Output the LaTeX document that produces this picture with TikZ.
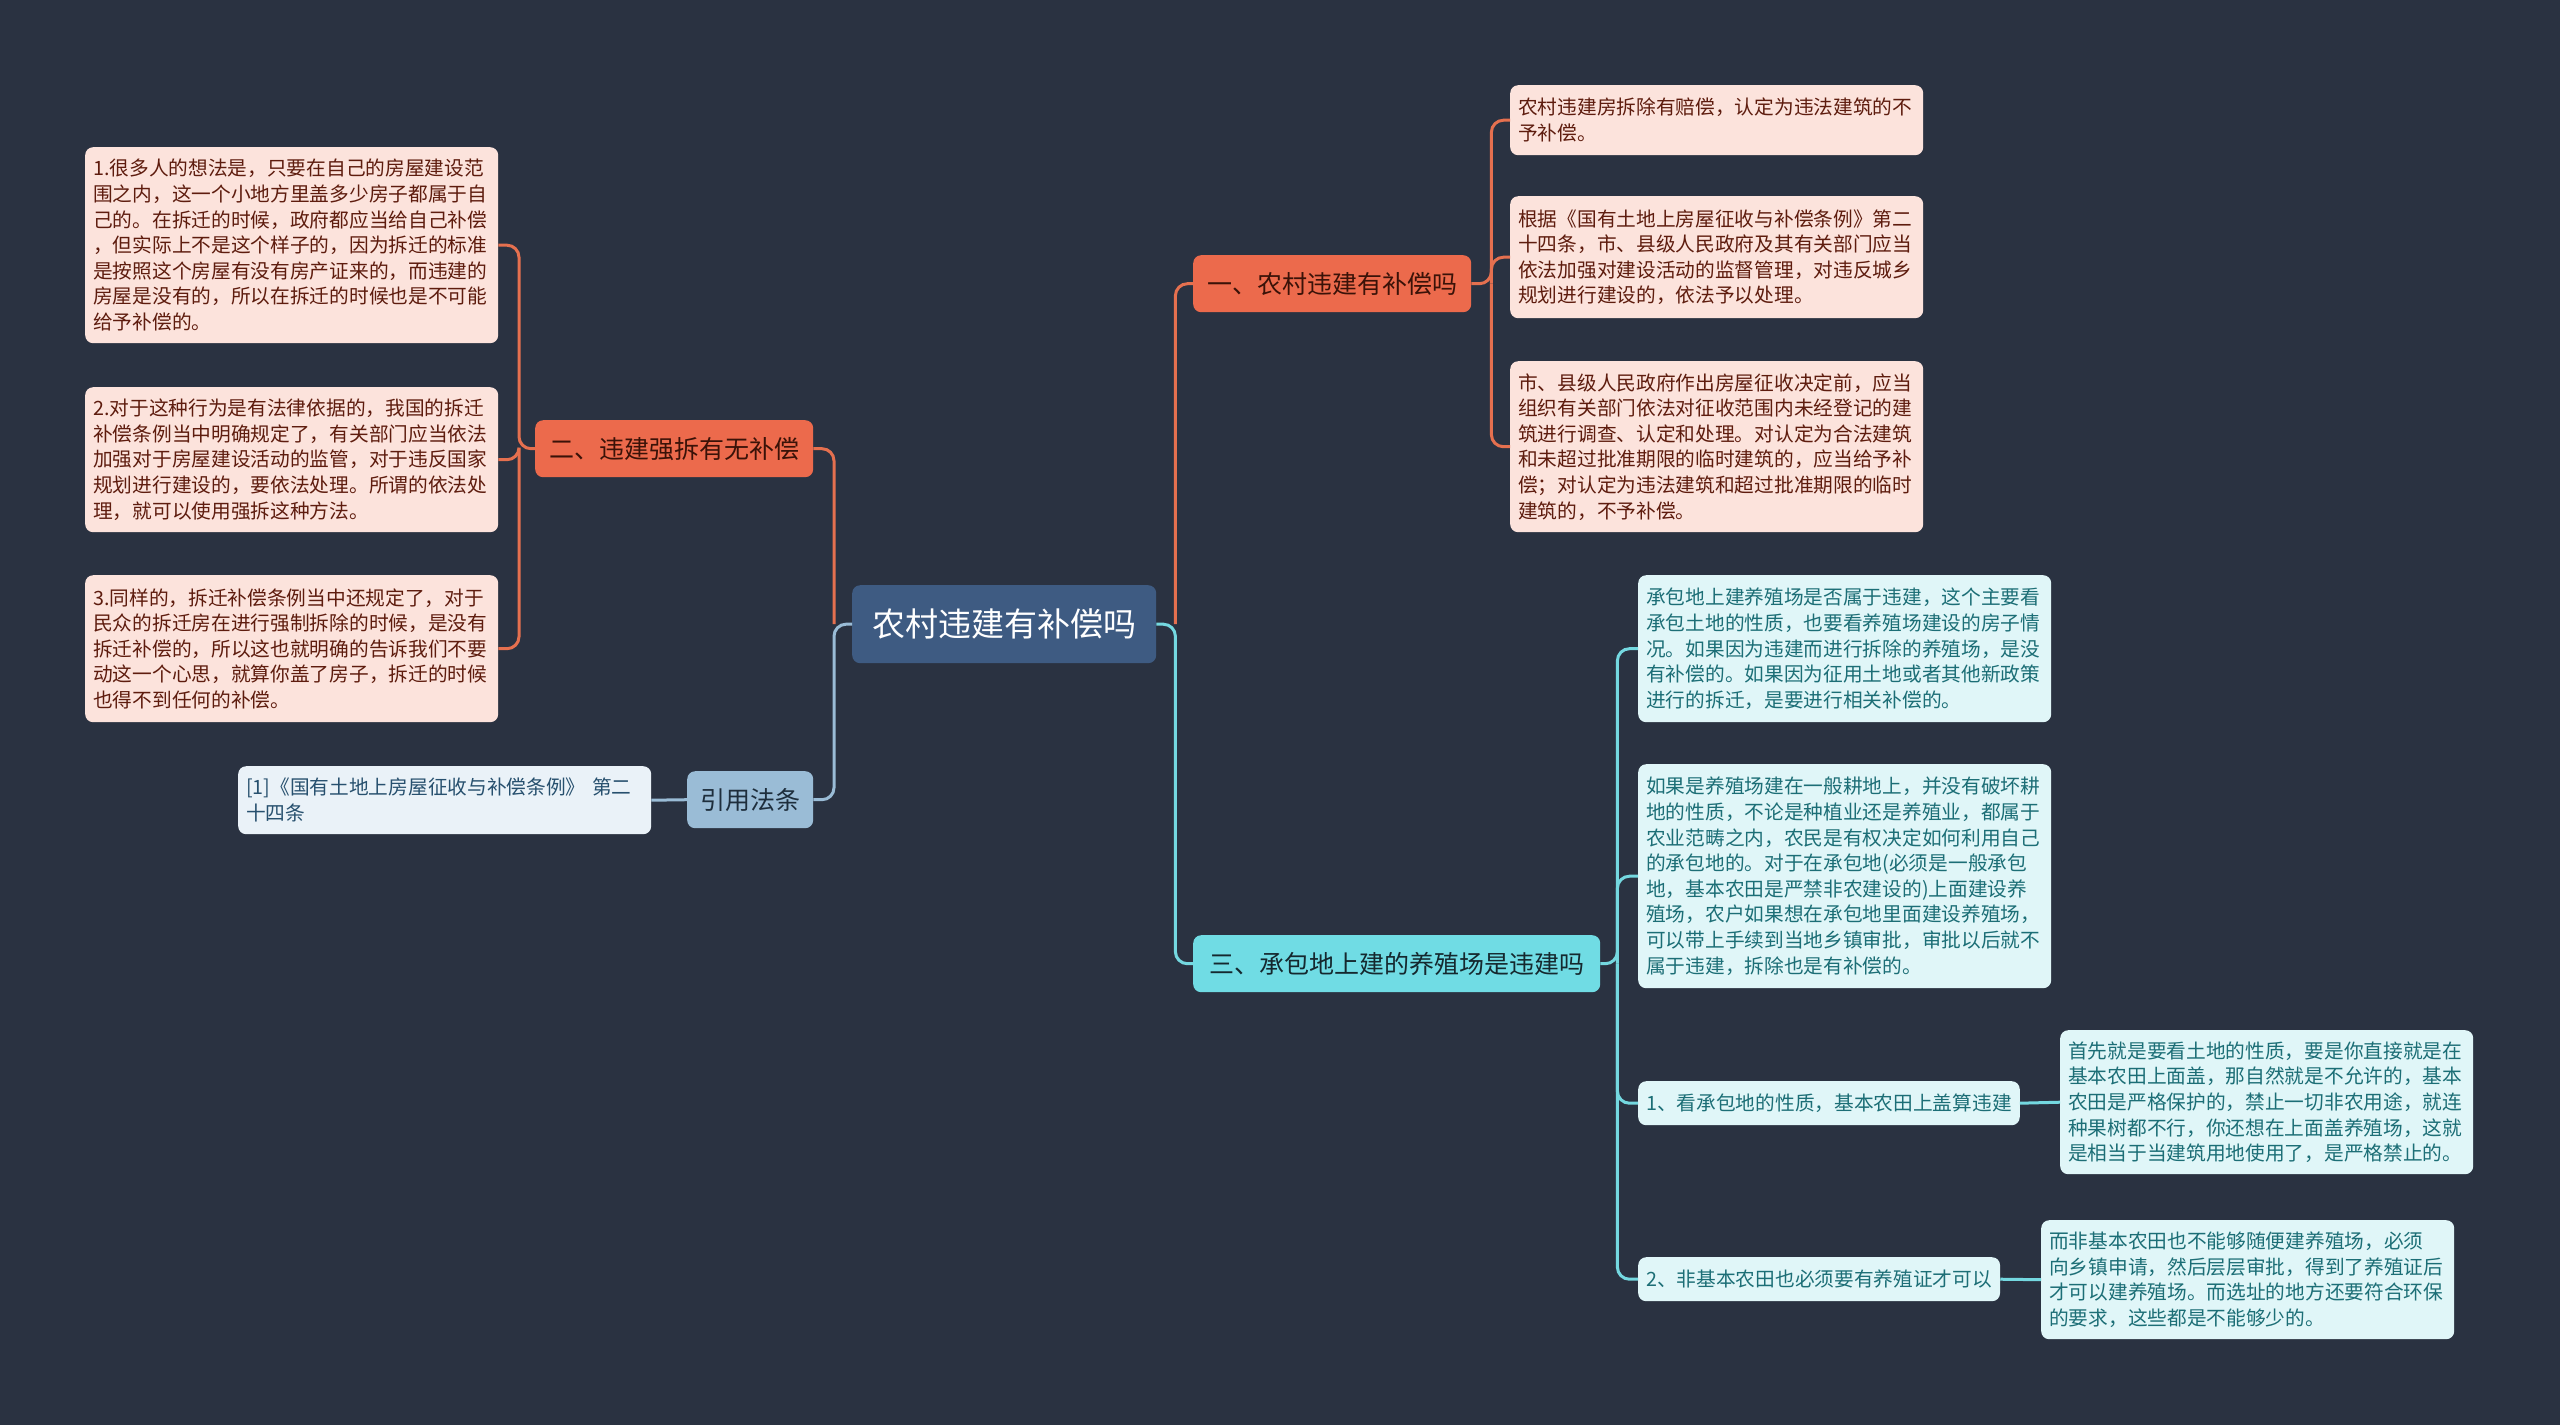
\documentclass[tikz,border=0pt]{standalone}
\usepackage{fontspec}
\newfontfamily\cjk{Noto Sans CJK SC}
\definecolor{bg}{HTML}{2A3241}
\definecolor{rootfill}{HTML}{3E5B82}
\definecolor{ofill}{HTML}{EC6A4C}
\definecolor{otext}{HTML}{3A1208}
\definecolor{oleaf}{HTML}{FCE3DC}
\definecolor{oleaftext}{HTML}{5E1C0E}
\definecolor{oline}{HTML}{E5704F}
\definecolor{cfill}{HTML}{70DCE4}
\definecolor{ctext}{HTML}{15282E}
\definecolor{cleaf}{HTML}{E0F6F8}
\definecolor{cleaftext}{HTML}{1C6E76}
\definecolor{cline}{HTML}{74D8E0}
\definecolor{bfill}{HTML}{9ABCD6}
\definecolor{btext}{HTML}{1E2E3C}
\definecolor{bleaf}{HTML}{EAF2F8}
\definecolor{bleaftext}{HTML}{27506E}
\definecolor{bline}{HTML}{9ABCD6}
\newcommand{\leaffont}{\cjk\fontsize{19.7pt}{25.6pt}\selectfont}
\newcommand{\branchfont}{\cjk\fontsize{25pt}{30pt}\selectfont}
\begin{document}
\begin{tikzpicture}[x=1pt,y=-1pt,
  box/.style={rounded corners=8pt, inner ysep=0pt, align=left, anchor=north west},
  leafO/.style={box, fill=oleaf, text=oleaftext, font=\leaffont, text width=397pt, inner xsep=8pt},
  leafC/.style={box, fill=cleaf, text=cleaftext, font=\leaffont, text width=397pt, inner xsep=8pt},
  leafB/.style={box, fill=bleaf, text=bleaftext, font=\leaffont, text width=397pt, inner xsep=8pt},
  subC/.style={box, fill=cleaf, text=cleaftext, font=\leaffont, inner xsep=8pt, minimum height=44pt},
  branch/.style={rounded corners=8pt, anchor=north west, align=center, font=\branchfont, inner sep=0pt, minimum height=57pt},
  lnO/.style={draw=oline, line width=3pt, rounded corners=12pt},
  lnC/.style={draw=cline, line width=3pt, rounded corners=12pt},
  lnB/.style={draw=bline, line width=3pt, rounded corners=12pt}]
\fill[bg] (0,0) rectangle (2560,1425);
\useasboundingbox (0,0) rectangle (2560,1425);

% root
\node[rounded corners=8pt, anchor=north west, fill=rootfill, text=white,
  font=\cjk\fontsize{33pt}{38pt}\selectfont, inner sep=0pt,
  minimum width=304pt, minimum height=78pt] (root) at (852,585) {农村违建有补偿吗};

% branches
\node[branch, fill=ofill, text=otext, minimum width=278pt] (b1) at (1193,255) {一、农村违建有补偿吗};
\node[branch, fill=ofill, text=otext, minimum width=278pt] (b2) at (535,420) {二、违建强拆有无补偿};
\node[branch, fill=bfill, text=btext, minimum width=126pt] (b4) at (687,771) {引用法条};
\node[branch, fill=cfill, text=ctext, minimum width=407pt] (b3) at (1193,935) {三、承包地上建的养殖场是违建吗};

% leaves of branch 1
\node[leafO, minimum height=70pt] (l1a) at (1510,85) {农村违建房拆除有赔偿，认定为违法建筑的不\\予补偿。};
\node[leafO, minimum height=122pt] (l1b) at (1510,196) {根据《国有土地上房屋征收与补偿条例》第二\\十四条，市、县级人民政府及其有关部门应当\\依法加强对建设活动的监督管理，对违反城乡\\规划进行建设的，依法予以处理。};
\node[leafO, minimum height=171pt] (l1c) at (1510,361) {市、县级人民政府作出房屋征收决定前，应当\\组织有关部门依法对征收范围内未经登记的建\\筑进行调查、认定和处理。对认定为合法建筑\\和未超过批准期限的临时建筑的，应当给予补\\偿；对认定为违法建筑和超过批准期限的临时\\建筑的，不予补偿。};

% leaves of branch 2
\node[leafO, minimum height=196pt] (l2a) at (85,147) {1.很多人的想法是，只要在自己的房屋建设范\\围之内，这一个小地方里盖多少房子都属于自\\己的。在拆迁的时候，政府都应当给自己补偿\\，但实际上不是这个样子的，因为拆迁的标准\\是按照这个房屋有没有房产证来的，而违建的\\房屋是没有的，所以在拆迁的时候也是不可能\\给予补偿的。};
\node[leafO, minimum height=145pt] (l2b) at (85,387) {2.对于这种行为是有法律依据的，我国的拆迁\\补偿条例当中明确规定了，有关部门应当依法\\加强对于房屋建设活动的监管，对于违反国家\\规划进行建设的，要依法处理。所谓的依法处\\理，就可以使用强拆这种方法。};
\node[leafO, minimum height=147pt] (l2c) at (85,575) {3.同样的，拆迁补偿条例当中还规定了，对于\\民众的拆迁房在进行强制拆除的时候，是没有\\拆迁补偿的，所以这也就明确的告诉我们不要\\动这一个心思，就算你盖了房子，拆迁的时候\\也得不到任何的补偿。};

% citation leaf
\node[leafB, minimum height=68pt] (l4) at (238,766) {[1]《国有土地上房屋征收与补偿条例》 第二\\十四条};

% leaves of branch 3
\node[leafC, minimum height=147pt] (l3a) at (1638,575) {承包地上建养殖场是否属于违建，这个主要看\\承包土地的性质，也要看养殖场建设的房子情\\况。如果因为违建而进行拆除的养殖场，是没\\有补偿的。如果因为征用土地或者其他新政策\\进行的拆迁，是要进行相关补偿的。};
\node[leafC, minimum height=224pt] (l3b) at (1638,764) {如果是养殖场建在一般耕地上，并没有破坏耕\\地的性质，不论是种植业还是养殖业，都属于\\农业范畴之内，农民是有权决定如何利用自己\\的承包地的。对于在承包地(必须是一般承包\\地，基本农田是严禁非农建设的)上面建设养\\殖场，农户如果想在承包地里面建设养殖场，\\可以带上手续到当地乡镇审批，审批以后就不\\属于违建，拆除也是有补偿的。};
\node[subC] (l3c) at (1638,1081) {1、看承包地的性质，基本农田上盖算违建};
\node[subC] (l3d) at (1638,1257) {2、非基本农田也必须要有养殖证才可以};
\node[leafC, minimum height=144pt] (l3cl) at (2060,1030) {首先就是要看土地的性质，要是你直接就是在\\基本农田上面盖，那自然就是不允许的，基本\\农田是严格保护的，禁止一切非农用途，就连\\种果树都不行，你还想在上面盖养殖场，这就\\是相当于当建筑用地使用了，是严格禁止的。};
\node[leafC, minimum height=119pt] (l3dl) at (2041,1220) {而非基本农田也不能够随便建养殖场，必须\\向乡镇申请，然后层层审批，得到了养殖证后\\才可以建养殖场。而选址的地方还要符合环保\\的要求，这些都是不能够少的。};

% junctions
\coordinate (jr) at ([xshift=19pt]root.east);
\coordinate (jl) at ([xshift=-18pt]root.west);
\coordinate (j1) at ([xshift=20pt]b1.east);
\coordinate (j2) at ([xshift=-16pt]b2.west);
\coordinate (j3) at ([xshift=17pt]b3.east);

% connectors
\draw[lnC] (root.east) -- (jr) |- (b3.west);
\draw[lnO] (jr) |- (b1.west);
\draw[lnB] (root.west) -- (jl) |- (b4.east);
\draw[lnO] (jl) |- (b2.east);

\draw[lnO] (b1.east) -- (j1) |- (l1a.west);
\draw[lnO] (j1) |- (l1b.west);
\draw[lnO] (j1) |- (l1c.west);

\draw[lnO] (b2.west) -- (j2) |- (l2a.east);
\draw[lnO] (j2) |- (l2b.east);
\draw[lnO] (j2) |- (l2c.east);

\draw[lnB] (b4.west) -- (l4.east);

\draw[lnC] (b3.east) -- (j3) |- (l3a.west);
\draw[lnC] (j3) |- (l3b.west);
\draw[lnC] (j3) |- (l3c.west);
\draw[lnC] (j3) |- (l3d.west);
\draw[lnC] (l3c.east) -- (l3cl.west);
\draw[lnC] (l3d.east) -- (l3dl.west);
\end{tikzpicture}
\end{document}
